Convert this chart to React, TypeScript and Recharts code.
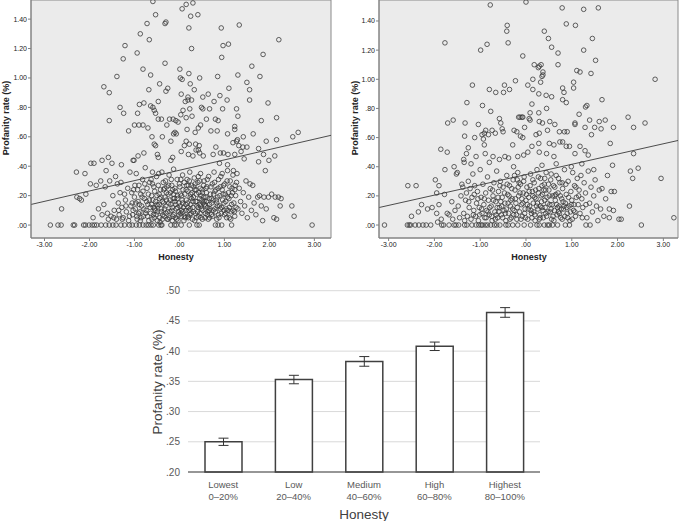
import {
  ScatterChart,
  Scatter,
  XAxis,
  YAxis,
  ReferenceArea,
  ReferenceLine,
  BarChart,
  Bar,
  ErrorBar,
  CartesianGrid,
} from "recharts";

const FONT = '"Liberation Sans", Arial, sans-serif';

type Pt = [number, number];

const SCATTER_X_TICKS = [-3, -2, -1, 0, 1, 2, 3];
const SCATTER_Y_TICKS = [0, 0.2, 0.4, 0.6, 0.8, 1.0, 1.2, 1.4];

// left panel
const LEFT_UPPER: Pt[] = [
  [-0.59, 1.52], [-0.53, 1.43], [-0.72, 1.37], [-0.3, 1.38], [-0.32, 1.37], [0.06, 1.47], [0.15, 1.5],
  [0.3, 1.51], [0.25, 1.42], [0.41, 1.43], [0.21, 1.34], [0.93, 1.34], [1.33, 1.36], [-0.87, 1.3],
  [-0.67, 1.26], [-1.21, 1.22], [0.27, 1.2], [0.97, 1.22], [1.09, 1.23], [2.21, 1.26], [-0.94, 1.17],
  [-1.25, 1.13], [0.94, 1.14], [1.86, 1.16], [1.61, 1.08], [-0.32, 1.1], [-0.81, 1.06], [-0.64, 1.02],
  [-1.39, 1.01], [0.01, 1.06], [0.21, 1.03], [0.02, 1.0], [0.06, 0.99], [0.45, 1.0], [0.85, 1.01],
  [1.3, 1.02], [1.5, 0.97], [1.79, 1.01], [-1.68, 0.94], [-1.56, 0.9], [-0.44, 0.96], [-0.26, 0.93],
  [-0.3, 0.91], [0.24, 0.96], [0.33, 0.92], [1.1, 0.93], [1.56, 0.92], [-0.68, 0.92], [0.04, 0.89],
  [0.64, 0.89], [0.9, 0.88], [0.19, 0.87], [0.13, 0.84], [0.19, 0.85], [0.27, 0.85], [0.52, 0.87],
  [-0.47, 0.84], [0.77, 0.84], [1.06, 0.85], [1.56, 0.85], [1.97, 0.83], [-0.89, 0.82], [-0.79, 0.83],
  [-1.32, 0.8], [-0.64, 0.81], [-0.59, 0.8], [-0.56, 0.78], [-0.53, 0.76], [-1.24, 0.76], [-0.93, 0.76],
  [0.49, 0.8], [0.52, 0.79], [0.67, 0.79], [0.23, 0.79], [0.08, 0.78], [0.96, 0.79], [1.27, 0.79],
  [1.3, 0.74], [2.16, 0.73], [-1.56, 0.71], [-0.47, 0.72], [-0.4, 0.72], [-0.22, 0.72], [-0.14, 0.72],
  [-0.08, 0.71], [-0.03, 0.7], [0.15, 0.73], [0.28, 0.74], [0.03, 0.75], [0.6, 0.72], [0.8, 0.72],
  [0.86, 0.71], [1.82, 0.71], [-1.0, 0.68], [-0.9, 0.68], [-0.81, 0.68], [-0.7, 0.66], [-0.28, 0.68],
  [-1.13, 0.64], [0.17, 0.65], [0.42, 0.66], [0.47, 0.68], [0.7, 0.64], [0.84, 0.64], [1.23, 0.67],
  [1.23, 0.65], [1.64, 0.62], [0.35, 0.63], [1.07, 0.62], [-0.61, 0.6], [-0.38, 0.6], [1.42, 0.6],
  [1.93, 0.57], [2.16, 0.58], [2.52, 0.6], [2.64, 0.63], [-0.13, 0.62], [-0.1, 0.63], [-0.07, 0.62],
  [-0.19, 0.57], [0.15, 0.57], [0.11, 0.54], [0.22, 0.55], [0.36, 0.55], [0.44, 0.54], [1.29, 0.58],
  [1.27, 0.57], [1.19, 0.56], [1.32, 0.54], [1.41, 0.53], [1.5, 0.53], [0.81, 0.53], [-0.56, 0.55],
  [-0.53, 0.54], [-1.58, 0.46], [-1.5, 0.42], [-1.72, 0.44], [-1.63, 0.37], [-1.97, 0.42], [-1.9, 0.42],
  [-1.01, 0.44], [-0.92, 0.47], [-0.79, 0.49], [-1.03, 0.44], [-1.29, 0.41], [-0.49, 0.48], [-0.47, 0.46],
  [-0.15, 0.46], [-0.19, 0.44], [0.04, 0.5], [0.37, 0.51], [0.42, 0.51], [0.2, 0.48], [0.3, 0.47],
  [0.45, 0.49], [0.53, 0.47], [0.75, 0.48], [0.91, 0.49], [0.98, 0.49], [1.08, 0.48], [1.23, 0.48],
  [1.37, 0.5], [1.87, 0.48], [1.76, 0.52], [2.12, 0.47], [1.99, 0.44], [1.91, 0.37], [1.76, 0.43],
  [1.44, 0.45], [0.89, 0.42], [1.07, 0.41], [-2.29, 0.36], [-2.1, 0.35],
];

const LEFT_ZERO_X = [
  -2.87, -2.7, -2.63, -2.36, -2.33, -2.13, -2.09, -2.01, -1.94, -1.89, -1.84, -1.74, -1.64, -1.56,
  -1.48, -1.41, -1.3, -1.22, -1.11, -1.05, -0.96, -0.89, -0.81, -0.74, -0.69, -0.63, -0.58, -0.46,
  -0.41, -0.39, -0.19, -0.11, -0.07, 0.04, 0.22, 0.39, 0.44, 0.8, 0.86, 0.94, 1.16, 2.95,
];

const LEFT_LOWER: Pt[] = [
  [-2.62, 0.11], [-2.28, 0.19], [-2.22, 0.18], [-2.18, 0.17], [-2.08, 0.21], [-1.98, 0.28], [-1.92, 0.05],
  [-1.85, 0.27], [-1.8, 0.11], [-1.75, 0.3], [-1.72, 0.07], [-1.68, 0.14], [-1.65, 0.26], [-1.6, 0.08],
  [-1.58, 0.04], [-1.55, 0.3], [-1.52, 0.06], [-1.48, 0.2], [-1.45, 0.1], [-1.42, 0.33], [-1.4, 0.04],
  [-1.38, 0.28], [-1.36, 0.15], [-1.34, 0.07], [-1.32, 0.22], [-1.3, 0.29], [-1.28, 0.12], [-1.25, 0.05],
  [-1.22, 0.21], [-1.2, 0.17], [-1.18, 0.09], [-1.15, 0.25], [-1.13, 0.03], [-1.1, 0.36], [-1.08, 0.13],
  [-1.06, 0.22], [-1.04, 0.07], [-1.02, 0.24], [-1.0, 0.19], [-0.98, 0.11], [-0.96, 0.35], [-0.94, 0.04],
  [-0.92, 0.16], [-0.9, 0.27], [-0.88, 0.09], [-0.86, 0.21], [-0.84, 0.13], [-0.82, 0.31], [-0.8, 0.06],
  [-0.78, 0.18], [-0.76, 0.39], [-0.74, 0.1], [-0.72, 0.25], [-0.7, 0.14], [-0.68, 0.03], [-0.66, 0.29],
  [-0.64, 0.08], [-0.62, 0.2], [-0.6, 0.36], [-0.58, 0.12], [-0.56, 0.05], [-0.55, 0.23], [-0.53, 0.16],
  [-0.51, 0.33], [-0.49, 0.09], [-0.47, 0.27], [-0.45, 0.14], [-0.43, 0.02], [-0.41, 0.19], [-0.39, 0.36],
  [-0.37, 0.07], [-0.35, 0.24], [-0.33, 0.11], [-0.31, 0.3], [-0.29, 0.17], [-0.27, 0.04], [-0.25, 0.21],
  [-0.23, 0.34], [-0.21, 0.09], [-0.19, 0.14], [-0.17, 0.27], [-0.15, 0.06], [-0.13, 0.38], [-0.11, 0.18],
  [-0.09, 0.23], [-0.07, 0.11], [-0.05, 0.31], [-0.03, 0.03], [-0.01, 0.15], [0.01, 0.26], [0.03, 0.08],
  [0.05, 0.2], [0.07, 0.34], [0.09, 0.12], [0.11, 0.29], [0.13, 0.05], [0.15, 0.17], [0.17, 0.31],
  [0.19, 0.23], [0.21, 0.1], [0.23, 0.36], [0.25, 0.14], [0.27, 0.27], [0.29, 0.04], [0.31, 0.19],
  [0.33, 0.32], [0.35, 0.08], [0.37, 0.24], [0.39, 0.13], [0.41, 0.29], [0.43, 0.06], [0.45, 0.18],
  [0.47, 0.35], [0.49, 0.11], [0.51, 0.22], [0.53, 0.15], [0.55, 0.3], [0.57, 0.05], [0.59, 0.19],
  [0.61, 0.26], [0.63, 0.09], [0.65, 0.33], [0.67, 0.14], [0.69, 0.21], [0.71, 0.07], [0.73, 0.28],
  [0.75, 0.17], [0.77, 0.36], [0.79, 0.11], [0.81, 0.24], [0.83, 0.04], [0.85, 0.19], [0.87, 0.31],
  [0.89, 0.13], [0.91, 0.26], [0.93, 0.08], [0.95, 0.35], [0.97, 0.21], [0.99, 0.1], [1.01, 0.28],
  [1.03, 0.16], [1.05, 0.05], [1.07, 0.37], [1.09, 0.22], [1.11, 0.12], [1.13, 0.3], [1.15, 0.09],
  [1.17, 0.25], [1.19, 0.34], [1.21, 0.15], [1.23, 0.06], [1.25, 0.2], [1.27, 0.29], [1.3, 0.11],
  [1.33, 0.25], [1.36, 0.16], [1.39, 0.08], [1.42, 0.22], [1.45, 0.13], [1.48, 0.3], [1.51, 0.05],
  [1.54, 0.19], [1.57, 0.28], [1.6, 0.1], [1.63, 0.27], [1.66, 0.15], [1.7, 0.07], [1.74, 0.19],
  [1.78, 0.2], [1.82, 0.13], [1.85, 0.03], [1.88, 0.19], [1.93, 0.11], [1.98, 0.19], [2.05, 0.21],
  [2.1, 0.05], [2.13, 0.19], [2.16, 0.04], [2.2, 0.19], [2.24, 0.13], [2.26, 0.18], [2.5, 0.13],
  [2.55, 0.06],
];

const LEFT_DENSE: Pt[] = [
  [-0.95, 0.06], [-0.93, 0.24], [-0.89, 0.14], [-0.85, 0.05], [-0.83, 0.19], [-0.79, 0.11], [-0.77, 0.28],
  [-0.73, 0.16], [-0.71, 0.06], [-0.69, 0.21], [-0.65, 0.12], [-0.63, 0.31], [-0.61, 0.04], [-0.59, 0.17],
  [-0.57, 0.26], [-0.54, 0.1], [-0.52, 0.07], [-0.5, 0.2], [-0.48, 0.13], [-0.46, 0.35], [-0.44, 0.05],
  [-0.42, 0.24], [-0.4, 0.11], [-0.38, 0.16], [-0.36, 0.29], [-0.34, 0.06], [-0.32, 0.19], [-0.3, 0.13],
  [-0.28, 0.26], [-0.26, 0.09], [-0.24, 0.15], [-0.22, 0.05], [-0.2, 0.22], [-0.18, 0.31], [-0.16, 0.12],
  [-0.14, 0.18], [-0.12, 0.07], [-0.1, 0.25], [-0.08, 0.14], [-0.06, 0.04], [-0.04, 0.2], [-0.02, 0.09],
  [0.0, 0.28], [0.02, 0.13], [0.04, 0.06], [0.06, 0.17], [0.08, 0.24], [0.1, 0.03], [0.12, 0.21],
  [0.14, 0.1], [0.16, 0.27], [0.18, 0.15], [0.2, 0.05], [0.22, 0.3], [0.24, 0.19], [0.26, 0.08],
  [0.28, 0.22], [0.3, 0.12], [0.32, 0.26], [0.34, 0.03], [0.36, 0.16], [0.38, 0.21], [0.4, 0.09],
  [0.42, 0.33], [0.44, 0.14], [0.46, 0.25], [0.48, 0.05], [0.5, 0.17], [0.52, 0.1], [0.54, 0.27],
  [0.56, 0.14], [0.58, 0.08], [0.6, 0.22], [0.62, 0.31], [0.64, 0.04], [0.66, 0.18], [0.68, 0.11],
  [0.7, 0.26], [0.72, 0.15], [0.74, 0.06], [0.76, 0.21], [0.78, 0.29], [0.8, 0.09], [0.82, 0.17],
  [0.84, 0.13], [0.86, 0.25], [0.88, 0.05], [0.9, 0.2], [0.92, 0.33], [0.94, 0.12], [0.96, 0.17],
  [0.98, 0.27], [1.0, 0.07], [1.02, 0.21], [1.04, 0.11], [1.06, 0.3], [1.08, 0.1], [1.1, 0.18],
  [1.12, 0.26], [1.14, 0.04], [1.16, 0.14], [1.18, 0.22], [1.2, 0.37], [1.22, 0.09], [1.24, 0.27],
  [1.26, 0.12], [1.28, 0.35], [-0.58, 0.07], [-0.5, 0.14], [-0.44, 0.18], [-0.38, 0.04], [-0.3, 0.08],
  [-0.24, 0.27], [-0.16, 0.03], [-0.1, 0.16], [-0.04, 0.12], [0.02, 0.21], [0.08, 0.09], [0.14, 0.14],
  [0.18, 0.06], [0.24, 0.11], [0.3, 0.16], [0.34, 0.24], [0.38, 0.05], [0.42, 0.12], [0.46, 0.08],
  [0.5, 0.24], [0.54, 0.19], [0.58, 0.13], [0.62, 0.07], [0.66, 0.1], [-1.46, 0.05], [-1.35, 0.1],
  [-1.27, 0.04], [-1.19, 0.13], [-1.11, 0.06], [-1.03, 0.1], [-0.97, 0.15], [-0.91, 0.08],
  [-1.05, 0.15], [-0.99, 0.27], [-0.87, 0.03], [-0.81, 0.23], [-0.75, 0.08], [-0.67, 0.17], [-0.6, 0.28],
  [-0.55, 0.11], [-0.49, 0.03], [-0.45, 0.21], [-0.41, 0.09], [-0.35, 0.15], [-0.29, 0.22], [-0.25, 0.04],
  [-0.21, 0.17], [-0.17, 0.1], [-0.13, 0.21], [-0.09, 0.05], [-0.05, 0.18], [-0.01, 0.07], [0.03, 0.31],
  [0.07, 0.15], [0.11, 0.06], [0.15, 0.24], [0.19, 0.12], [0.23, 0.07], [0.27, 0.18], [0.31, 0.09],
  [0.35, 0.28], [0.39, 0.16], [0.43, 0.22], [0.47, 0.13], [0.51, 0.04], [0.55, 0.16], [0.59, 0.25],
  [0.63, 0.12], [0.67, 0.05], [0.71, 0.18], [0.75, 0.1], [0.79, 0.23], [0.83, 0.15], [0.87, 0.07],
  [0.91, 0.11], [0.95, 0.24], [0.99, 0.15], [1.03, 0.08], [1.07, 0.19], [1.11, 0.05], [1.15, 0.2],
  [1.19, 0.1], [1.23, 0.24], [0.2, 0.27], [0.45, 0.3], [-0.33, 0.25], [-0.62, 0.14], [0.05, 0.1],
  [0.25, 0.21], [0.48, 0.2], [0.6, 0.16], [-0.15, 0.24],
];

// right panel
const RIGHT_UPPER: Pt[] = [
  [-0.78, 1.51], [0.0, 1.53], [0.79, 1.49], [1.26, 1.48], [1.58, 1.49], [-0.41, 1.37], [-0.42, 1.33],
  [0.4, 1.33], [1.08, 1.37], [0.88, 1.38], [-1.77, 1.25], [-0.85, 1.24], [-0.39, 1.25], [0.49, 1.28],
  [1.45, 1.28], [-0.99, 1.2], [1.26, 1.2], [0.56, 1.22], [0.7, 1.18], [-0.07, 1.16], [1.52, 1.13],
  [0.7, 1.1], [0.18, 1.1], [0.29, 1.09], [0.33, 1.1], [0.27, 1.08], [1.11, 1.06], [1.18, 1.05],
  [1.42, 1.04], [0.37, 1.05], [0.37, 1.03], [0.35, 1.02], [0.15, 1.0], [0.32, 0.98], [1.04, 0.98],
  [-0.23, 0.99], [2.82, 1.0], [-1.17, 0.96], [-0.47, 0.96], [-0.36, 0.93], [-0.49, 0.91], [-0.8, 0.93],
  [-0.66, 0.91], [0.04, 0.96], [0.15, 0.93], [0.8, 0.94], [0.83, 0.91], [1.04, 0.94], [0.28, 0.9],
  [0.44, 0.89], [0.56, 0.88], [0.8, 0.86], [0.88, 0.84], [1.66, 0.86], [-1.29, 0.84], [-0.95, 0.82],
  [0.45, 0.8], [0.13, 0.83], [-0.77, 0.78], [1.3, 0.81], [1.33, 0.82], [0.09, 0.77], [0.28, 0.77],
  [1.16, 0.76], [0.07, 0.73], [-0.16, 0.74], [-0.13, 0.74], [-0.09, 0.74], [-0.07, 0.74], [-0.58, 0.73],
  [-1.59, 0.72], [-1.71, 0.7], [-1.33, 0.7], [-1.04, 0.69], [-0.55, 0.7], [0.09, 0.72], [0.29, 0.71],
  [0.36, 0.7], [0.52, 0.71], [1.07, 0.69], [1.07, 0.7], [1.39, 0.72], [1.6, 0.71], [1.73, 0.72],
  [2.23, 0.74], [2.6, 0.7], [2.35, 0.67], [1.91, 0.67], [1.64, 0.66], [1.29, 0.67], [1.5, 0.67],
  [0.63, 0.69], [0.73, 0.64], [0.84, 0.64], [0.9, 0.64], [-0.03, 0.67], [-0.26, 0.65], [-0.2, 0.64],
  [-0.88, 0.65], [-0.91, 0.63], [-0.82, 0.62], [-0.96, 0.62], [-0.74, 0.65], [-0.67, 0.63], [-0.52, 0.66],
  [-0.5, 0.64], [0.29, 0.63], [0.47, 0.65], [0.22, 0.62], [-1.34, 0.61], [-1.12, 0.6], [-0.93, 0.59],
  [-0.12, 0.61], [-0.07, 0.6], [1.43, 0.62], [0.74, 0.57], [0.8, 0.57], [1.84, 0.56], [-1.86, 0.52],
  [-1.72, 0.5], [0.28, 0.56], [0.51, 0.56], [0.61, 0.55], [-0.29, 0.55], [0.13, 0.54], [-0.91, 0.55],
  [-1.26, 0.53], [-1.3, 0.49], [-1.09, 0.47], [-0.89, 0.49], [-0.72, 0.47], [-0.46, 0.47], [0.04, 0.5],
  [0.29, 0.5], [0.45, 0.49], [0.61, 0.47], [0.88, 0.54], [0.95, 0.54], [1.07, 0.49], [1.18, 0.54],
  [1.29, 0.51], [1.36, 0.48], [2.35, 0.49], [-1.36, 0.45], [-1.35, 0.43], [-1.2, 0.42], [-0.8, 0.43],
  [-0.58, 0.45], [-0.38, 0.46], [-0.18, 0.47], [-0.05, 0.48], [-1.77, 0.38], [-1.57, 0.4], [1.89, 0.41],
  [2.45, 0.39], [2.28, 0.37], [2.33, 0.32], [2.95, 0.32], [-1.9, 0.27], [-2.58, 0.27], [-2.4, 0.27],
  [-1.95, 0.22], [2.26, 0.13], [3.23, 0.05], [2.03, 0.04], [2.08, 0.04], [1.82, 0.05], [1.91, 0.1],
  [1.93, 0.23], [0.66, 0.42], [0.99, 0.4], [1.22, 0.42], [0.35, 0.41], [-0.27, 0.4], [1.48, 0.38],
];

const RIGHT_ZERO_X = [
  -3.09, -2.59, -2.55, -2.52, -2.42, -2.34, -2.25, -2.18, -2.08, -1.84, -1.8, -1.68, -1.57, -1.53,
  -1.47, -1.34, -1.29, -1.18, -1.09, -1.03, -0.98, -0.95, -0.89, -0.84, -0.77, -0.69, -0.64, -0.57,
  -0.44, -0.39, -0.29, -0.18, -0.04, 0.1, 0.24, 0.29, 0.4, 0.47, 0.51, 0.58, 0.69, 0.86, 0.95, 1.31,
  1.4, 2.52,
];

const RIGHT_LOWER: Pt[] = [
  [-2.5, 0.06], [-2.35, 0.09], [-2.28, 0.14], [-2.15, 0.11], [-2.05, 0.12], [-1.98, 0.31], [-1.95, 0.08],
  [-1.93, 0.02], [-1.9, 0.14], [-1.85, 0.04], [-1.78, 0.21], [-1.72, 0.08], [-1.68, 0.07], [-1.62, 0.16],
  [-1.6, 0.04], [-1.55, 0.1], [-1.52, 0.35], [-1.5, 0.36], [-1.48, 0.13], [-1.45, 0.05], [-1.42, 0.2],
  [-1.4, 0.28], [-1.38, 0.26], [-1.36, 0.08], [-1.34, 0.03], [-1.32, 0.17], [-1.3, 0.22], [-1.28, 0.06],
  [-1.26, 0.3], [-1.24, 0.12], [-1.22, 0.25], [-1.2, 0.04], [-1.18, 0.19], [-1.16, 0.35], [-1.14, 0.1],
  [-1.12, 0.27], [-1.1, 0.06], [-1.08, 0.15], [-1.06, 0.23], [-1.04, 0.03], [-1.02, 0.12], [-1.0, 0.38],
  [-0.98, 0.19], [-0.96, 0.08], [-0.94, 0.28], [-0.92, 0.14], [-0.9, 0.05], [-0.88, 0.22], [-0.86, 0.1],
  [-0.84, 0.33], [-0.82, 0.17], [-0.8, 0.07], [-0.78, 0.25], [-0.76, 0.13], [-0.74, 0.03], [-0.72, 0.2],
  [-0.7, 0.29], [-0.68, 0.09], [-0.66, 0.16], [-0.64, 0.37], [-0.62, 0.05], [-0.6, 0.23], [-0.58, 0.12],
  [-0.56, 0.3], [-0.54, 0.07], [-0.52, 0.19], [-0.5, 0.26], [-0.48, 0.1], [-0.46, 0.15], [-0.44, 0.03],
  [-0.42, 0.34], [-0.4, 0.21], [-0.38, 0.08], [-0.36, 0.27], [-0.34, 0.13], [-0.32, 0.05], [-0.3, 0.18],
  [-0.28, 0.31], [-0.26, 0.1], [-0.24, 0.24], [-0.22, 0.15], [-0.2, 0.04], [-0.18, 0.36], [-0.16, 0.2],
  [-0.14, 0.09], [-0.12, 0.28], [-0.1, 0.14], [-0.08, 0.06], [-0.06, 0.22], [-0.04, 0.33], [-0.02, 0.11],
  [0.0, 0.17], [0.02, 0.26], [0.04, 0.04], [0.06, 0.19], [0.08, 0.13], [0.1, 0.35], [0.12, 0.08],
  [0.14, 0.23], [0.16, 0.15], [0.18, 0.29], [0.2, 0.03], [0.22, 0.18], [0.24, 0.38], [0.26, 0.11],
  [0.28, 0.25], [0.3, 0.07], [0.32, 0.32], [0.34, 0.16], [0.36, 0.21], [0.38, 0.05], [0.4, 0.28],
  [0.42, 0.12], [0.44, 0.36], [0.46, 0.19], [0.48, 0.09], [0.5, 0.24], [0.52, 0.14], [0.54, 0.31],
  [0.56, 0.04], [0.58, 0.2], [0.6, 0.27], [0.62, 0.1], [0.64, 0.17], [0.66, 0.34], [0.68, 0.07],
  [0.7, 0.22], [0.72, 0.13], [0.74, 0.29], [0.76, 0.05], [0.78, 0.18], [0.8, 0.25], [0.82, 0.11],
  [0.84, 0.38], [0.86, 0.15], [0.88, 0.21], [0.9, 0.08], [0.92, 0.3], [0.94, 0.13], [0.96, 0.03],
  [0.98, 0.23], [1.0, 0.17], [1.02, 0.36], [1.04, 0.1], [1.06, 0.27], [1.08, 0.06], [1.1, 0.19],
  [1.12, 0.32], [1.14, 0.14], [1.16, 0.24], [1.18, 0.08], [1.2, 0.34], [1.22, 0.18], [1.24, 0.12],
  [1.27, 0.29], [1.3, 0.22], [1.33, 0.05], [1.36, 0.37], [1.39, 0.15], [1.42, 0.26], [1.45, 0.09],
  [1.48, 0.2], [1.51, 0.31], [1.54, 0.13], [1.57, 0.03], [1.6, 0.24], [1.63, 0.11], [1.66, 0.25],
  [1.7, 0.06], [1.74, 0.18], [1.78, 0.34], [1.82, 0.11], [1.86, 0.23],
];

const RIGHT_DENSE: Pt[] = [
  [-0.79, 0.12], [-0.75, 0.06], [-0.71, 0.17], [-0.67, 0.04], [-0.63, 0.12], [-0.59, 0.09], [-0.55, 0.16],
  [-0.51, 0.05], [-0.47, 0.22], [-0.43, 0.11], [-0.39, 0.15], [-0.35, 0.04], [-0.31, 0.25], [-0.27, 0.07],
  [-0.23, 0.18], [-0.19, 0.12], [-0.15, 0.29], [-0.11, 0.04], [-0.07, 0.15], [-0.03, 0.08], [0.01, 0.21],
  [0.05, 0.11], [0.09, 0.27], [0.13, 0.05], [0.17, 0.09], [0.21, 0.24], [0.25, 0.15], [0.29, 0.04],
  [0.33, 0.2], [0.37, 0.1], [0.41, 0.17], [0.45, 0.06], [0.49, 0.28], [0.53, 0.09], [0.57, 0.14],
  [0.61, 0.03], [0.65, 0.21], [0.69, 0.12], [0.73, 0.08], [0.77, 0.11], [0.81, 0.16], [0.85, 0.06],
  [0.89, 0.12], [0.93, 0.19], [0.97, 0.09], [1.01, 0.04], [1.05, 0.14], [0.15, 0.31], [0.27, 0.33],
  [0.35, 0.27], [-0.05, 0.3], [0.43, 0.24], [0.55, 0.35], [-0.25, 0.34], [-0.41, 0.28], [0.71, 0.32],
  [0.87, 0.28], [1.09, 0.26], [0.19, 0.19], [0.31, 0.13], [-0.13, 0.22], [-0.33, 0.17], [0.63, 0.2],
  [0.79, 0.04], [-1.15, 0.07], [-1.05, 0.18], [-0.97, 0.11], [-0.87, 0.05],
  [-1.25, 0.16], [-1.13, 0.21], [-1.01, 0.07], [-0.91, 0.18], [-0.83, 0.09], [-0.73, 0.24], [-0.65, 0.07],
  [-0.61, 0.19], [-0.53, 0.13], [-0.45, 0.08], [-0.37, 0.2], [-0.29, 0.11], [-0.21, 0.07], [-0.17, 0.26],
  [-0.09, 0.18], [-0.01, 0.05], [0.03, 0.14], [0.07, 0.23], [0.11, 0.1], [0.15, 0.2], [0.19, 0.07],
  [0.23, 0.13], [0.27, 0.22], [0.31, 0.05], [0.35, 0.12], [0.39, 0.24], [0.43, 0.08], [0.47, 0.15],
  [0.51, 0.2], [0.55, 0.11], [0.59, 0.06], [0.63, 0.26], [0.67, 0.14], [0.71, 0.09], [0.75, 0.2],
  [0.83, 0.13], [0.91, 0.05], [0.99, 0.14], [1.07, 0.09], [1.15, 0.2], [1.23, 0.05], [1.31, 0.14],
  [-0.57, 0.27], [-0.19, 0.31], [0.41, 0.32], [0.79, 0.29],
];

const LEFT_FIT: Pt[] = [[-3.3, 0.14], [3.37, 0.61]];
const RIGHT_FIT: Pt[] = [[-3.21, 0.12], [3.32, 0.58]];

// bar panel
const BAR_LABELS = ["Lowest", "Low", "Medium", "High", "Highest"];
const BAR_RANGES = ["0–20%", "20–40%", "40–60%", "60–80%", "80–100%"];
const BAR_MEANS = [0.25, 0.353, 0.383, 0.408, 0.464];
const BAR_ERRORS = [0.006, 0.007, 0.008, 0.007, 0.008];
const BAR_TICKS = [0.2, 0.25, 0.3, 0.35, 0.4, 0.45, 0.5];

const fmt = (v: number) => v.toFixed(2).replace(/^0\./, ".").replace(/^-0\./, "-.");

const toData = (upper: Pt[], zeroX: number[], lower: Pt[], dense: Pt[]) => [
  ...upper.map(([x, y]) => ({ x, y })),
  ...zeroX.map((x) => ({ x, y: 0 })),
  ...lower.map(([x, y]) => ({ x, y })),
  ...dense.map(([x, y]) => ({ x, y })),
];

const Ring = (props: any) =>
  props.cx == null ? null : (
    <circle cx={props.cx} cy={props.cy} r={2.3} fill="none" stroke="#3a3a3a" strokeWidth={0.8} />
  );

const scatterTick = { fontSize: 7, fill: "#222", fontFamily: FONT };

function HonestyScatter(props: {
  data: { x: number; y: number }[];
  fit: Pt[];
  xDomain: [number, number];
  yDomain: [number, number];
  yAxisWidth: number;
  marginRight: number;
}) {
  const { data, fit, xDomain, yDomain, yAxisWidth, marginRight } = props;
  return (
    <ScatterChart width={340} height={265} margin={{ top: 0, right: marginRight, left: 0, bottom: 0 }}>
      <XAxis
        type="number"
        dataKey="x"
        domain={xDomain}
        ticks={SCATTER_X_TICKS}
        tickFormatter={fmt}
        allowDataOverflow
        height={27}
        tickSize={3}
        tickMargin={1}
        stroke="#808080"
        tick={scatterTick}
      />
      <YAxis
        type="number"
        dataKey="y"
        domain={yDomain}
        ticks={SCATTER_Y_TICKS}
        tickFormatter={fmt}
        allowDataOverflow
        width={yAxisWidth}
        tickSize={3}
        tickMargin={1}
        stroke="#808080"
        tick={scatterTick}
      />
      <ReferenceArea
        x1={xDomain[0]}
        x2={xDomain[1]}
        y1={yDomain[0]}
        y2={yDomain[1]}
        fill="#ebebeb"
        fillOpacity={1}
        stroke="#8a8a8a"
        strokeWidth={1}
      />
      <Scatter data={data} shape={Ring} isAnimationActive={false} />
      <ReferenceLine
        segment={[
          { x: fit[0][0], y: fit[0][1] },
          { x: fit[1][0], y: fit[1][1] },
        ]}
        stroke="#3a3a3a"
        strokeWidth={0.9}
      />
    </ScatterChart>
  );
}

const BarTick = (props: any) => {
  const { x, y, payload } = props;
  const i = payload.index ?? BAR_LABELS.indexOf(payload.value);
  return (
    <g>
      <text x={x} y={y + 15.5} textAnchor="middle" fontSize={9.5} fill="#595959" fontFamily={FONT}>
        {BAR_LABELS[i]}
      </text>
      <text x={x} y={y + 27.5} textAnchor="middle" fontSize={9.5} fill="#595959" fontFamily={FONT}>
        {BAR_RANGES[i]}
      </text>
    </g>
  );
};

const abs = (left: number, top: number): React.CSSProperties => ({ position: "absolute", left, top });

function Title(props: { text: string; cx: number; cy: number; size: number; color: string; bold?: boolean; rotate?: boolean }) {
  const { text, cx, cy, size, color, bold, rotate } = props;
  return (
    <div
      style={{
        position: "absolute",
        left: cx,
        top: cy,
        transform: `translate(-50%, -50%)${rotate ? " rotate(-90deg)" : ""}`,
        whiteSpace: "nowrap",
        fontFamily: FONT,
        fontSize: size,
        fontWeight: bold ? 700 : 400,
        color,
        lineHeight: 1,
      }}
    >
      {text}
    </div>
  );
}

export default function App() {
  const leftData = toData(LEFT_UPPER, LEFT_ZERO_X, LEFT_LOWER, LEFT_DENSE);
  const rightData = toData(RIGHT_UPPER, RIGHT_ZERO_X, RIGHT_LOWER, RIGHT_DENSE);
  const barData = BAR_LABELS.map((name, i) => ({ name, mean: BAR_MEANS[i], err: BAR_ERRORS[i] }));

  return (
    <div style={{ position: "absolute", left: 0, top: 0, width: 680, height: 521, background: "#fff", overflow: "hidden" }}>
      <div style={abs(0, 0)}>
        <HonestyScatter data={leftData} fit={LEFT_FIT} xDomain={[-3.3, 3.37]} yDomain={[-0.088, 1.53]} yAxisWidth={31} marginRight={9} />
      </div>
      <div style={abs(340, 0)}>
        <HonestyScatter data={rightData} fit={RIGHT_FIT} xDomain={[-3.21, 3.32]} yDomain={[-0.089, 1.544]} yAxisWidth={39} marginRight={2} />
      </div>
      <Title text="Profanity rate (%)" cx={6} cy={118} size={9} color="#222" bold rotate />
      <Title text="Honesty" cx={176} cy={257} size={9} color="#222" bold />
      <Title text="Profanity rate (%)" cx={355} cy={118} size={9} color="#222" bold rotate />
      <Title text="Honesty" cx={529} cy={257} size={9} color="#222" bold />

      <div style={abs(130, 270)}>
        <BarChart width={420} height={251} data={barData} margin={{ top: 20.7, right: 10, left: 0, bottom: 0 }}>
          <CartesianGrid vertical={false} stroke="#d9d9d9" />
          <XAxis dataKey="name" height={49} tickSize={0} tickMargin={0} stroke="#404040" strokeWidth={1.2} tick={<BarTick />} interval={0} />
          <YAxis
            domain={[0.2, 0.5]}
            ticks={BAR_TICKS}
            tickFormatter={fmt}
            width={58}
            axisLine={false}
            tickLine={false}
            tickSize={0}
            tickMargin={8}
            tick={{ fontSize: 10, fill: "#595959", fontFamily: FONT }}
          />
          <Bar dataKey="mean" barSize={37} fill="#fff" stroke="#404040" strokeWidth={1.5} isAnimationActive={false}>
            <ErrorBar dataKey="err" width={5} stroke="#333" strokeWidth={1} direction="y" isAnimationActive={false} />
          </Bar>
        </BarChart>
      </div>
      <Title text="Profanity rate (%)" cx={158} cy={382} size={13.5} color="#404040" rotate />
      <Title text="Honesty" cx={364} cy={515} size={13.5} color="#404040" />
    </div>
  );
}
